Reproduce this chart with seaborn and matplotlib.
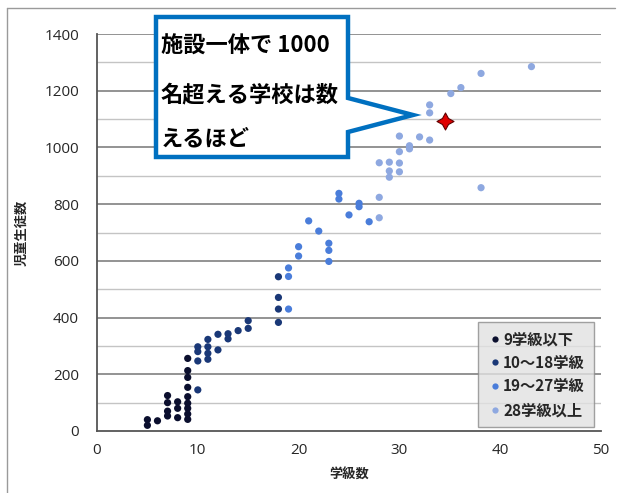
import matplotlib
matplotlib.use("Agg")
import matplotlib.pyplot as plt
from matplotlib.patches import Polygon
from matplotlib.lines import Line2D
import seaborn as sns
import pandas as pd

# 学級数と児童生徒数
classes_g1 = [5, 5, 6, 7, 7, 7, 7, 8, 8, 8, 9, 9, 9, 9, 9, 9, 9, 9, 9]
students_g1 = [40, 20, 36, 125, 100, 70, 53, 103, 80, 47, 256, 213, 189, 154, 121, 98, 80, 60, 41]

classes_g2 = [10, 10, 10, 10, 11, 11, 11, 11, 12, 12, 13, 13, 14, 15, 15, 18, 18, 18, 18]
students_g2 = [297, 280, 247, 145, 323, 297, 274, 253, 341, 286, 343, 325, 354, 389, 362, 544, 471, 430, 383]

classes_g3 = [19, 19, 19, 20, 20, 21, 22, 23, 23, 23, 24, 24, 25, 26, 26, 27]
students_g3 = [575, 545, 430, 650, 617, 741, 705, 662, 637, 598, 838, 818, 762, 803, 791, 738]

classes_g4 = [28, 28, 28, 29, 29, 29, 30, 30, 30, 30, 31, 31, 32, 33, 33, 33, 35.1, 36.1, 38.1, 38.1, 43.1]
students_g4 = [946, 824, 752, 948, 917, 895, 1040, 985, 945, 914, 1006, 995, 1037, 1150, 1122, 1026, 1190, 1211, 1261, 858, 1285]

group_labels = ["9学級以下", "10～18学級", "19～27学級", "28学級以上"]
group_colors = ["#0b0f2e", "#1a3877", "#4a7dda", "#8ea8e0"]

star_x = [34.5]
star_y = [1092]

callout_lines = ["施設一体で 1000", "名超える学校は数", "えるほど"]

df = pd.concat([
    pd.DataFrame({"学級数": classes_g1, "児童生徒数": students_g1, "区分": group_labels[0]}),
    pd.DataFrame({"学級数": classes_g2, "児童生徒数": students_g2, "区分": group_labels[1]}),
    pd.DataFrame({"学級数": classes_g3, "児童生徒数": students_g3, "区分": group_labels[2]}),
    pd.DataFrame({"学級数": classes_g4, "児童生徒数": students_g4, "区分": group_labels[3]}),
], ignore_index=True)

sns.set_style("white")
plt.rcParams["font.family"] = ["Noto Sans CJK JP", "DejaVu Sans"]

W, H = 619, 493
fig = plt.figure(figsize=(W / 100, H / 100), dpi=100)
ax = fig.add_axes([97 / W, 1 - 431 / H, (601 - 97) / W, (431 - 34) / H])

# 横グリッド（200刻みは濃く、100刻みは薄く）
for v in range(100, 1500, 100):
    ax.axhline(v, color="#8a8a8a" if v % 200 == 0 else "#c4c4c4",
               lw=1.3 if v % 200 == 0 else 1.0, zorder=0)

palette = dict(zip(group_labels, group_colors))
sns.scatterplot(data=df, x="学級数", y="児童生徒数", hue="区分", hue_order=group_labels,
                palette=palette, s=27, linewidth=0, ax=ax, legend=False, zorder=3)

ax.scatter(star_x, star_y, marker=(4, 1, 0), s=150, color="#e00000",
           edgecolor="#600000", linewidth=0.8, zorder=4)

ax.set_xlim(0, 50)
ax.set_ylim(0, 1400)
ax.set_xticks(range(0, 51, 10))
ax.set_yticks(range(0, 1401, 200))
ax.tick_params(length=0, labelsize=11)
ax.tick_params(axis="y", pad=13)
ax.tick_params(axis="x", pad=9)
for lab in ax.get_xticklabels() + ax.get_yticklabels():
    lab.set_family(["Open Sans", "DejaVu Sans"])
ax.set_xlabel("学級数", fontsize=9.5, fontweight="bold", labelpad=7)
ax.set_ylabel("児童生徒数", fontsize=9.5, fontweight="bold", labelpad=11)

for s in ["top", "right"]:
    ax.spines[s].set_visible(False)
for s in ["left", "bottom"]:
    ax.spines[s].set_color("#555555")
    ax.spines[s].set_linewidth(1.3)

handles = [Line2D([], [], marker="o", ls="", ms=4.5, color=c, markeredgewidth=0)
           for c in group_colors]
leg = fig.legend(handles, group_labels, loc="upper left",
                 bbox_to_anchor=(478 / W, 1 - 322 / H), frameon=True,
                 prop={"size": 11, "weight": "bold"}, handletextpad=0.05,
                 handlelength=1.0, labelspacing=0.5, borderpad=0.6,
                 borderaxespad=0, fancybox=False)
leg.get_frame().set_facecolor("#e2e2e2")
leg.get_frame().set_edgecolor("#8c8c8c")

# 外枠（左と上）
fig.add_artist(Line2D([7 / W, 7 / W], [1 - 8 / H, 0], color="#9a9a9a", lw=1.0))
fig.add_artist(Line2D([7 / W, 615 / W], [1 - 8 / H, 1 - 8 / H], color="#9a9a9a", lw=1.0))

# 吹き出し
pts = [(156, 17), (348, 17), (348, 98), (413, 115), (348, 132), (348, 157), (156, 157)]
poly = Polygon([(x / W, 1 - y / H) for x, y in pts], closed=True,
               facecolor="white", edgecolor="#0070c0", lw=3.2,
               joinstyle="miter", transform=fig.transFigure, zorder=10)
fig.add_artist(poly)
for t, y in zip(callout_lines, [46, 95, 139]):
    fig.text(161 / W, 1 - y / H, t, fontsize=16, fontweight="bold",
             va="center", ha="left", color="black", zorder=11)

fig.savefig("out.png", dpi=100)
